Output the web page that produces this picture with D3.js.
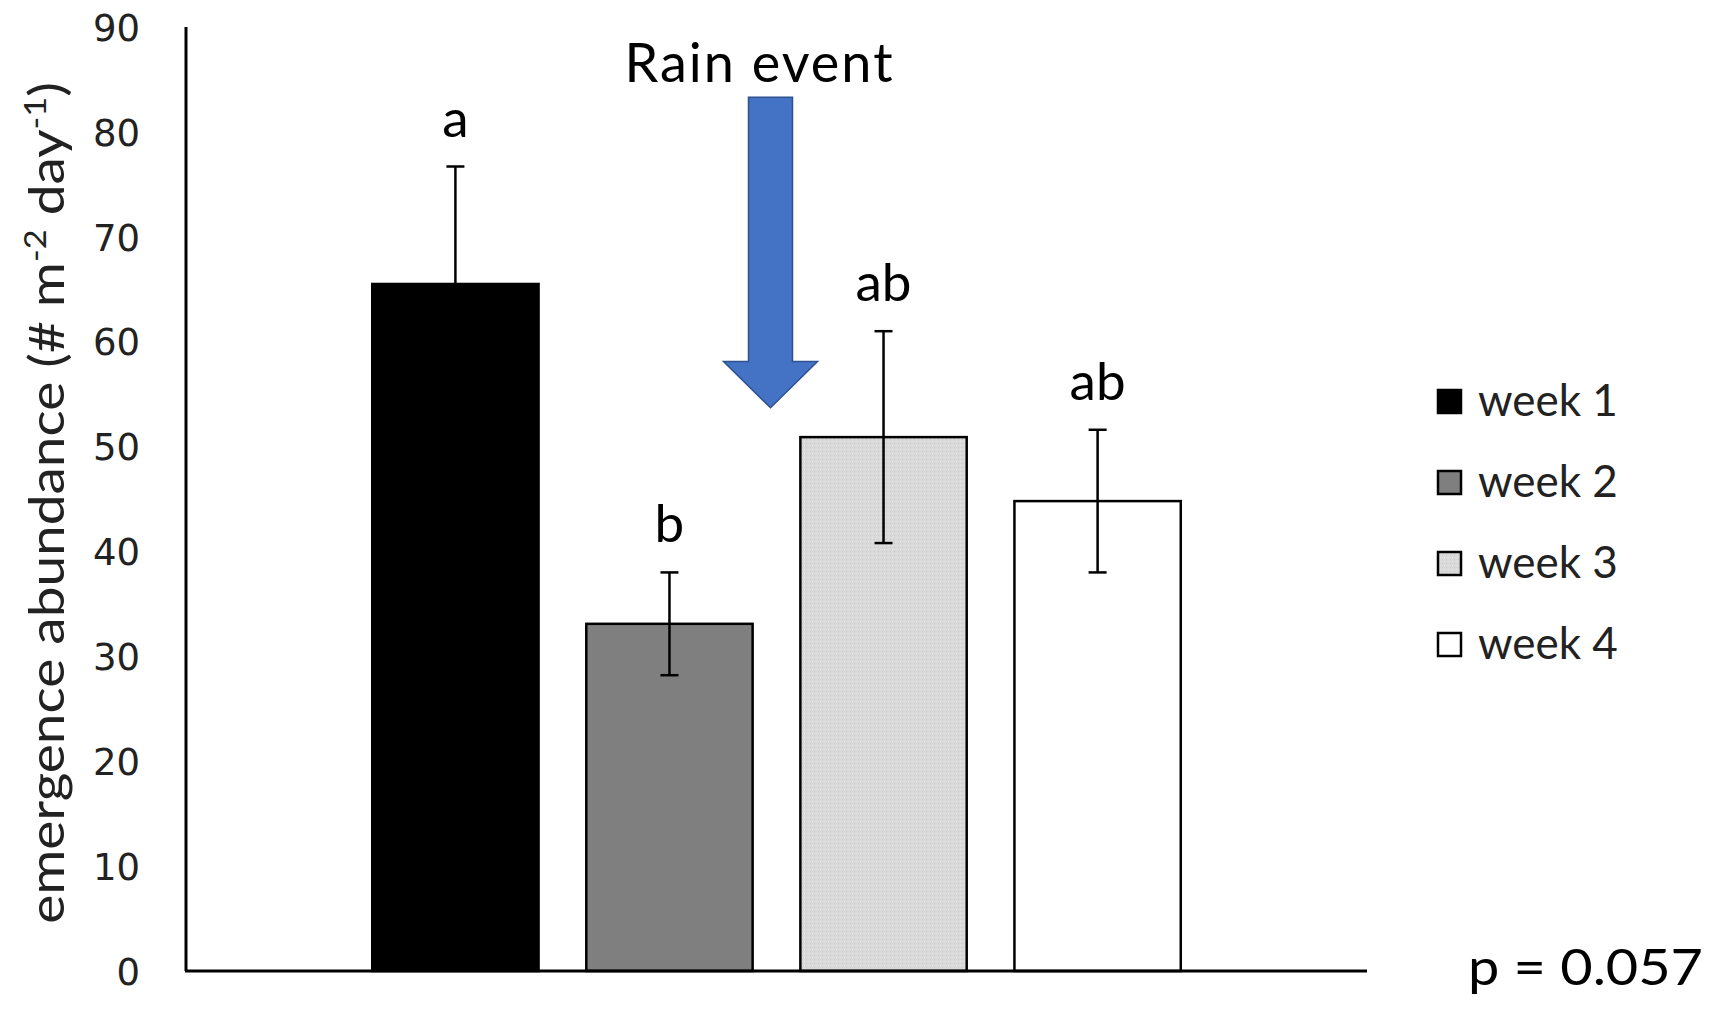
<!DOCTYPE html>
<html>
<head>
<meta charset="utf-8">
<script src="https://cdn.jsdelivr.net/npm/d3@7"></script>
<style>
  body { margin: 0; background: #fff; }
  svg { display: block; }
</style>
</head>
<body>
<div class="chart"></div>
<script>
// data
const weeks = ['week 1', 'week 2', 'week 3', 'week 4']
const means = [65.5, 33.1, 50.9, 44.8]
const errs = [11.2, 4.9, 10.1, 6.8]
const letters = ['a', 'b', 'ab', 'ab']
const yTicks = [0, 10, 20, 30, 40, 50, 60, 70, 80, 90]
const fills = ['#000000', '#7f7f7f', 'url(#grain)', '#ffffff']

var W = 1714, H = 1009
var margin = {top: 27, right: 347, bottom: 38, left: 186},
    width = W - margin.left - margin.right,
    height = H - margin.top - margin.bottom

var svg = d3.select('.chart')
  .append('svg')
  .attr('width', W)
  .attr('height', H)

svg.append('rect').attr('width', W).attr('height', H).attr('fill', '#fff')

// light grainy fill for week 3
var defs = svg.append('defs')
var pat = defs.append('pattern')
  .attr('id', 'grain')
  .attr('width', 4).attr('height', 4)
  .attr('patternUnits', 'userSpaceOnUse')
pat.append('rect').attr('width', 4).attr('height', 4).attr('fill', '#dadada')
pat.append('rect').attr('x', 0).attr('y', 0).attr('width', 1).attr('height', 1).attr('fill', '#c8c8c8')
pat.append('rect').attr('x', 2).attr('y', 2).attr('width', 1).attr('height', 1).attr('fill', '#e6e6e6')

var chart = svg.append('g')
  .attr('transform', 'translate(' + margin.left + ',' + margin.top + ')')

var x = d3.scaleBand()
  .domain(weeks)
  .range([0, width])
  .paddingInner(0.223)
  .paddingOuter(0.87)

var y = d3.scaleLinear()
  .domain([0, 90])
  .range([height, 0])

// y axis (no tick marks, just labels)
var yAxis = chart.append('g')
  .call(d3.axisLeft(y).tickValues(yTicks).tickSize(0).tickPadding(46))
yAxis.select('.domain').remove()
yAxis.selectAll('text')
  .attr('font-family', 'DejaVu Sans, sans-serif')
  .attr('font-size', 37)
  .attr('fill', '#222')
  .attr('dy', '0.36em')

// bars
chart.selectAll('.bar')
  .data(weeks)
  .enter().append('rect')
  .attr('class', 'bar')
  .attr('x', d => x(d))
  .attr('width', x.bandwidth())
  .attr('y', (d, i) => y(means[i]))
  .attr('height', (d, i) => height - y(means[i]))
  .attr('fill', (d, i) => fills[i])
  .attr('stroke', '#000')
  .attr('stroke-width', 2.5)

// error bars
var eb = chart.selectAll('.err')
  .data(weeks)
  .enter().append('g')
  .attr('class', 'err')
  .attr('stroke', '#000')
  .attr('stroke-width', 2.5)

eb.append('line')
  .attr('x1', d => x(d) + x.bandwidth() / 2)
  .attr('x2', d => x(d) + x.bandwidth() / 2)
  .attr('y1', (d, i) => y(means[i] - errs[i]))
  .attr('y2', (d, i) => y(means[i] + errs[i]))

eb.selectAll('.cap')
  .data((d, i) => [{w: d, v: means[i] - errs[i]}, {w: d, v: means[i] + errs[i]}])
  .enter().append('line')
  .attr('class', 'cap')
  .attr('x1', d => x(d.w) + x.bandwidth() / 2 - 9)
  .attr('x2', d => x(d.w) + x.bandwidth() / 2 + 9)
  .attr('y1', d => y(d.v))
  .attr('y2', d => y(d.v))

// the black bar hides its lower whisker
chart.append('rect')
  .attr('x', x(weeks[0]))
  .attr('width', x.bandwidth())
  .attr('y', y(means[0]))
  .attr('height', height - y(means[0]))
  .attr('fill', '#000')

// significance letters
chart.selectAll('.letter')
  .data(weeks)
  .enter().append('text')
  .attr('class', 'letter')
  .attr('x', d => x(d) + x.bandwidth() / 2)
  .attr('y', (d, i) => y(means[i] + errs[i]) - 30)
  .attr('text-anchor', 'middle')
  .attr('font-family', 'Lato, sans-serif')
  .attr('font-size', 53)
  .attr('fill', '#000')
  .text((d, i) => letters[i])

// axes lines
chart.append('line')
  .attr('x1', 0).attr('x2', 0)
  .attr('y1', 0).attr('y2', height)
  .attr('stroke', '#000').attr('stroke-width', 3)
chart.append('line')
  .attr('x1', -1).attr('x2', width)
  .attr('y1', height).attr('y2', height)
  .attr('stroke', '#000').attr('stroke-width', 3)

// rain event arrow between week 2 and week 3
var ax = (x(weeks[1]) + x.bandwidth() + x(weeks[2])) / 2 - 6
var shaft = 22, head = 47
var arrowPts = [
  [ax - shaft, y(83.3)], [ax + shaft, y(83.3)], [ax + shaft, y(58.1)],
  [ax + head, y(58.1)], [ax, y(53.7)], [ax - head, y(58.1)], [ax - shaft, y(58.1)]
]
chart.append('path')
  .attr('d', d3.line()(arrowPts) + 'Z')
  .attr('fill', '#4472c4')
  .attr('stroke', '#2f528f')
  .attr('stroke-width', 1.5)

chart.append('text')
  .attr('x', ax - 12)
  .attr('y', y(83.3) - 15)
  .attr('text-anchor', 'middle')
  .attr('font-family', 'Lato, sans-serif')
  .attr('font-size', 54)
  .attr('textLength', 268)
  .attr('lengthAdjust', 'spacing')
  .attr('fill', '#000')
  .text('Rain event')

// y title, squeezed to the length of the original
var yt = svg.append('text')
  .attr('text-anchor', 'middle')
  .attr('font-family', 'Lato, sans-serif')
  .attr('font-size', 48)
  .attr('fill', '#222')
yt.append('tspan').text('emergence abundance (# m')
yt.append('tspan').attr('font-size', 30).attr('dy', -18).text('-2')
yt.append('tspan').attr('dy', 18).text(' day')
yt.append('tspan').attr('font-size', 30).attr('dy', -18).text('-1')
yt.append('tspan').attr('dy', 18).text(')')
var tLen = yt.node().getComputedTextLength()
yt.attr('transform', 'translate(64,' + (margin.top + height / 2 + 4) + ') rotate(-90) scale(' + (842 / tLen) + ',1)')

// legend
var legend = svg.selectAll('.legend')
  .data(weeks)
  .enter().append('g')
  .attr('class', 'legend')
  .attr('transform', (d, i) => 'translate(1438,' + (401 + i * 81) + ')')

legend.append('rect')
  .attr('x', 0).attr('y', -11)
  .attr('width', 23).attr('height', 23)
  .attr('fill', (d, i) => fills[i])
  .attr('stroke', '#000')
  .attr('stroke-width', 2.5)

legend.append('text')
  .attr('x', 40)
  .attr('y', 0)
  .attr('dy', '0.35em')
  .attr('font-family', 'Lato, sans-serif')
  .attr('font-size', 44)
  .attr('fill', '#222')
  .text(d => d)

svg.append('text')
  .attr('x', 1468)
  .attr('y', 985)
  .attr('font-family', 'Lato, sans-serif')
  .attr('font-size', 50)
  .attr('textLength', 235)
  .attr('lengthAdjust', 'spacingAndGlyphs')
  .attr('fill', '#000')
  .text('p = 0.057')
</script>
</body>
</html>
